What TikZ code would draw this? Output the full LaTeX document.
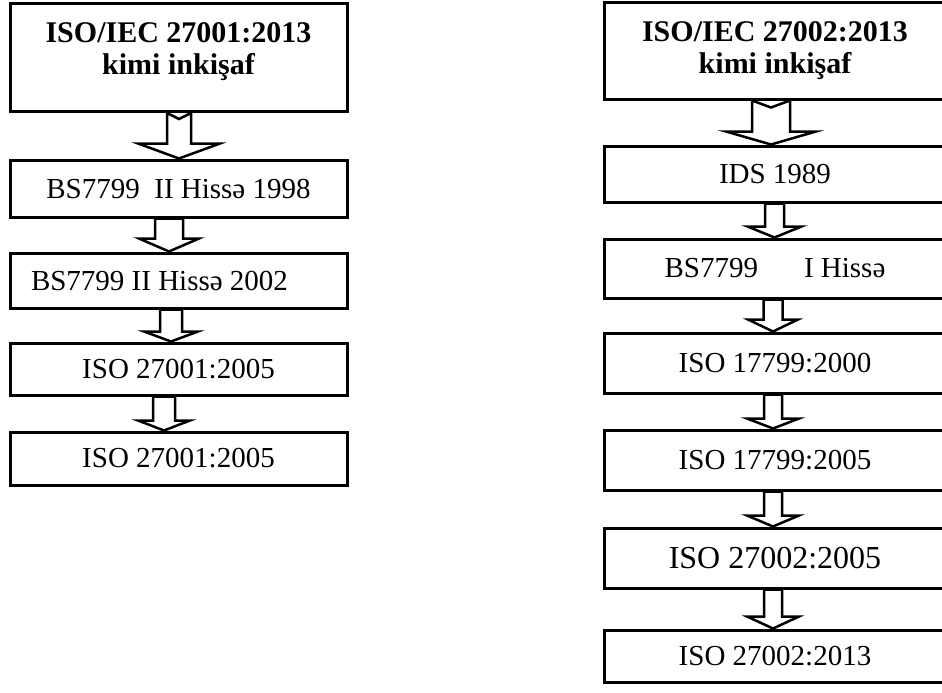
\documentclass[tikz,border=0pt]{standalone}
\usepackage{fontspec}
\setmainfont{Liberation Serif}
\usetikzlibrary{calc}

% block arrow from the bottom of #1 to the top of #2
% #3 x of the middle, #4 half shaft, #5 half head, #6 head length, #7 notch
\newcommand{\blockarr}[7]{%
  \draw[arr] let \p1=(#1.south), \p2=(#2.north) in
    ({#3pt-#4pt},{\y1}) -- ({#3pt-#4pt},{\y2+#6pt}) -- ({#3pt-#5pt},{\y2+#6pt})
    -- ({#3pt},{\y2}) -- ({#3pt+#5pt},{\y2+#6pt}) -- ({#3pt+#4pt},{\y2+#6pt})
    -- ({#3pt+#4pt},{\y1}) -- ({#3pt},{\y1-#7pt}) -- cycle;}

\begin{document}
\begin{tikzpicture}[x=1pt,y=-1pt]
        \tikzstyle{box}=[draw, line width=3pt, fill=white, inner sep=0pt, font=\fontsize{29}{32}\selectfont]
        \tikzstyle{title}=[box, align=center, font=\fontsize{30}{32}\selectfont\bfseries]
        \tikzstyle{arr}=[draw, line width=2.5pt, fill=white, line join=miter]
        \useasboundingbox (0,0) rectangle (942,693);
        \clip (0,0) rectangle (942,693);
        % left column
        \node[title, minimum width=337, minimum height=108, text depth=17pt] (l1) at (178.5,57.5) {ISO/IEC 27001:2013\\kimi inkişaf};
        \node[box, minimum width=337, minimum height=57] (l2) at (178.5,188.5) {BS7799\ \ II Hissə 1998};
        \node[box, minimum width=337, minimum height=55] (l3) at (178.5,280.5) {BS7799 II Hissə 2002\hspace*{38pt}};
        \node[box, minimum width=337, minimum height=52] (l4) at (178.5,369) {ISO 27001:2005};
        \node[box, minimum width=337, minimum height=53] (l5) at (178.5,458.5) {ISO 27001:2005};
        \blockarr{l1}{l2}{179}{12}{41}{15}{6}
        \blockarr{l2}{l3}{169}{14}{30}{13}{0}
        \blockarr{l3}{l4}{171}{11}{27}{10}{0}
        \blockarr{l4}{l5}{164}{11}{26}{10}{0}
        % right column
        \node[title, minimum width=342, minimum height=96] (r1) at (775,51) {ISO/IEC 27002:2013\\kimi inkişaf};
        \node[box, minimum width=342, minimum height=56] (r2) at (775,174) {IDS 1989};
        \node[box, minimum width=342, minimum height=59] (r3) at (775,268.5) {BS7799\hspace{46pt}I Hissə};
        \node[box, minimum width=342, minimum height=60] (r4) at (775,363) {ISO 17799:2000};
        \node[box, minimum width=342, minimum height=60] (r5) at (775,460) {ISO 17799:2005};
        \node[box, minimum width=342, minimum height=60, font=\fontsize{32}{36}\selectfont] (r6) at (775,558) {ISO 27002:2005};
        \node[box, minimum width=342, minimum height=52] (r7) at (775,656) {ISO 27002:2013};
        \blockarr{r1}{r2}{771}{19}{45}{13}{7}
        \blockarr{r2}{r3}{774.5}{9.5}{27}{11}{0}
        \blockarr{r3}{r4}{773}{9.5}{25}{12}{0}
        \blockarr{r4}{r5}{773}{9}{26}{10}{0}
        \blockarr{r5}{r6}{773}{9}{26}{11}{0}
        \blockarr{r6}{r7}{773}{9}{26}{12}{0}
    \end{tikzpicture}
\end{document}
